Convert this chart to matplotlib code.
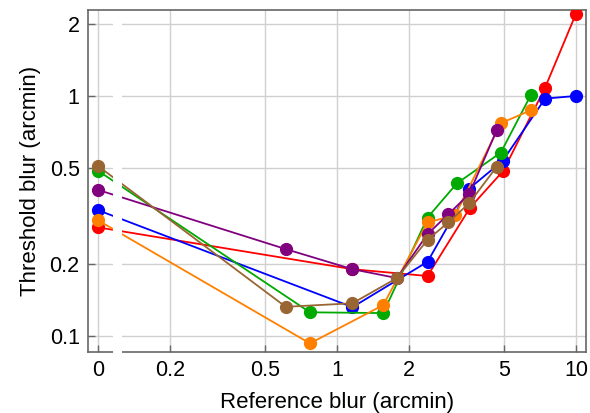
import matplotlib
matplotlib.use("Agg")
import matplotlib.pyplot as plt
import numpy as np

# reference blur 0 is drawn at this position on the log axis
ZERO_POS = 0.1

red_x = [0, 1.16, 2.39, 3.6, 4.96, 7.42, 9.97]
red_y = [0.284, 0.190, 0.178, 0.343, 0.489, 1.087, 2.20]

blue_x = [0, 1.16, 2.39, 3.57, 4.93, 7.42, 9.97]
blue_y = [0.335, 0.132, 0.204, 0.412, 0.538, 0.978, 1.003]

green_x = [0, 0.77, 1.56, 2.39, 3.17, 4.84, 6.46]
green_y = [0.489, 0.1256, 0.1247, 0.312, 0.433, 0.582, 1.01]

orange_x = [0, 0.77, 1.56, 2.39, 3.12, 4.84, 6.46]
orange_y = [0.304, 0.0932, 0.1346, 0.298, 0.319, 0.772, 0.874]

purple_x = [0, 0.61, 1.16, 1.78, 2.39, 2.92, 3.57, 4.66]
purple_y = [0.407, 0.2305, 0.190, 0.1745, 0.266, 0.322, 0.391, 0.724]

brown_x = [0, 0.61, 1.16, 1.78, 2.39, 2.92, 3.57, 4.66]
brown_y = [0.512, 0.1324, 0.137, 0.1745, 0.252, 0.298, 0.358, 0.509]

x_ticks = [0, 0.2, 0.5, 1, 2, 5, 10]
x_tick_labels = ["0", "0.2", "0.5", "1", "2", "5", "10"]
y_ticks = [0.1, 0.2, 0.5, 1, 2]
y_tick_labels = ["0.1", "0.2", "0.5", "1", "2"]


def pos(xs):
    return [ZERO_POS if v == 0 else v for v in xs]


def main():
    plt.rcParams["font.family"] = ["Liberation Sans", "DejaVu Sans"]
    fig = plt.figure(figsize=(5.9, 4.13), dpi=100)
    ax = fig.add_axes([88 / 590, 1 - 352 / 413, 498 / 590, 342 / 413])

    series = [
        (red_x, red_y, "#ff0000"),
        (blue_x, blue_y, "#0000ff"),
        (green_x, green_y, "#00aa00"),
        (orange_x, orange_y, "#ff8000"),
        (purple_x, purple_y, "#800080"),
        (brown_x, brown_y, "#996633"),
    ]
    for xs, ys, c in series:
        ax.plot(pos(xs), ys, "-o", color=c, linewidth=1.3, markersize=8.5,
                zorder=3)

    ax.set_xscale("log")
    ax.set_yscale("log")
    ax.set_xlim(0.0908, 11.0)
    ax.set_ylim(0.0858, 2.29)

    ax.set_xticks(pos(x_ticks))
    ax.set_xticklabels(x_tick_labels)
    ax.set_yticks(y_ticks)
    ax.set_yticklabels(y_tick_labels)
    ax.minorticks_off()

    ax.grid(True, color="#d0d0d0", linewidth=1.0)
    ax.set_axisbelow(True)
    for s in ax.spines.values():
        s.set_color("#666666")
        s.set_linewidth(1.2)
    ax.tick_params(direction="in", length=5, width=1.0, color="#666666",
                   labelsize=15.5, labelcolor="black", pad=6)

    # axis break between the zero point and the log part
    ax.axvspan(0.1156, 0.126, ymin=-0.01, ymax=0.996, color="white",
               zorder=5, clip_on=False, linewidth=0)

    ax.set_xlabel("Reference blur (arcmin)", fontsize=16, labelpad=8)
    ax.set_ylabel("Threshold blur (arcmin)", fontsize=16, labelpad=6)

    plt.savefig("out.png", dpi=100)


if __name__ == "__main__":
    main()
